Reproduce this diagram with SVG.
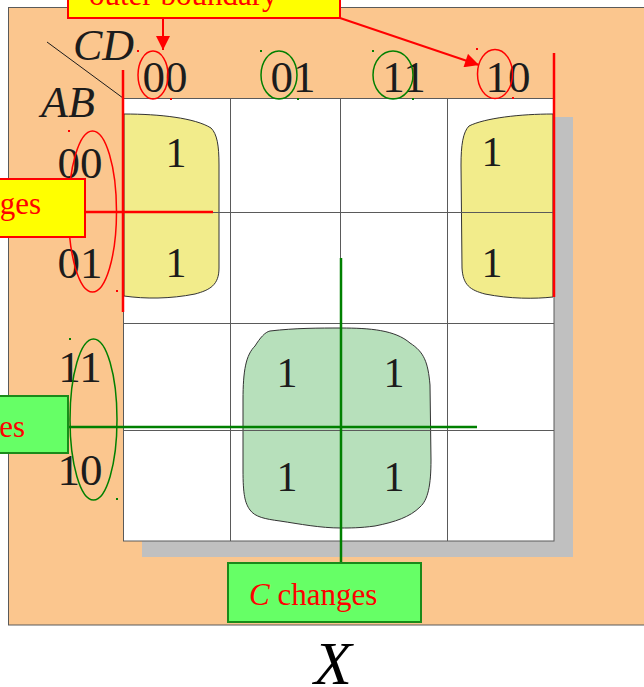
<svg xmlns="http://www.w3.org/2000/svg" width="644" height="687" viewBox="0 0 644 687">
  <style>
    .lbl { font-family: "Liberation Serif", "Times New Roman", serif; fill: #1c1c1c; }
    .var { font-family: "Liberation Serif", "Times New Roman", serif; font-style: italic; fill: #1c1c1c; font-size: 44px; }
    .code { font-size: 45px; text-anchor: middle; }
    .one { font-size: 42px; text-anchor: middle; }
    .note { font-family: "Liberation Serif", "Times New Roman", serif; font-size: 31px; fill: #ff0000; }
    .grid { stroke: #5a5a5a; stroke-width: 1; fill: none; }
    .blob { stroke: #333333; stroke-width: 1; }
    .red { stroke: #ff0000; fill: none; }
    .green { stroke: #008000; fill: none; }
    .dot-r { fill: #ff0000; }
    .dot-g { fill: #008000; }
  </style>
  <defs>
    <marker id="arrow" viewBox="0 0 10 10" refX="10" refY="5" markerWidth="16" markerHeight="14" markerUnits="userSpaceOnUse" orient="auto">
      <path d="M0,0 L10,5 L0,10 z" fill="#ff0000"/>
    </marker>
  </defs>

  <!-- page -->
  <rect x="0" y="0" width="644" height="687" fill="#ffffff"/>
  <rect x="8.5" y="7.5" width="650" height="617.5" fill="#fbc68e" stroke="#5a5a5a" stroke-width="1"/>

  <!-- map with drop shadow -->
  <g id="map">
    <rect x="142" y="117" width="431" height="440" fill="#c0c0c0"/>
    <rect x="123" y="98" width="431" height="443" fill="#ffffff"/>
  </g>

  <!-- groups of ones -->
  <g id="group-corners-left">
    <path class="blob" fill="#f2ec8b" d="M124,114 C160,114 195,118 211,128 C217,134 219,145 219,165 L219,268 C219,285 210,290 195,294 C170,299 145,299 124,296 Z"/>
  </g>
  <g id="group-corners-right">
    <path class="blob" fill="#f2ec8b" d="M553,114 C520,114 485,118 469,126 C463,132 461,145 461,165 L462,268 C463,285 470,290 485,294 C510,299 535,299 553,297 Z"/>
  </g>
  <g id="group-center">
    <path class="blob" fill="#b7e0bb" d="M270,331 C295,328 320,328 341,328 C370,328 395,330 410,343 C424,352 428,362 430,385 L431,460 C431,485 428,500 420,507 C410,517 395,522 375,526 C360,528 350,528 341,528 C320,528 300,524 280,521 C265,519 255,517 250,510 C245,503 243,495 243,470 L243,400 C243,370 246,355 255,346 C260,338 265,332 270,331 Z"/>
  </g>

  <!-- cell grid -->
  <g id="grid">
    <path class="grid" d="M230.5,98 V541 M340.5,98 V541 M447.5,98 V541 M123,212.5 H554 M123,323.5 H554 M123,430.5 H554"/>
    <rect class="grid" x="123.5" y="98.5" width="430.5" height="442.5"/>
  </g>

  <!-- cell values -->
  <g id="cells" class="lbl">
    <text class="one" x="176" y="167">1</text>
    <text class="one" x="176" y="277">1</text>
    <text class="one" x="492" y="166">1</text>
    <text class="one" x="492" y="277">1</text>
    <text class="one" x="287" y="387">1</text>
    <text class="one" x="394" y="387">1</text>
    <text class="one" x="287" y="491">1</text>
    <text class="one" x="394" y="491">1</text>
  </g>

  <!-- variable headings -->
  <g id="headings">
    <line x1="47" y1="42" x2="123" y2="98" stroke="#1c1c1c" stroke-width="1"/>
    <text class="var" x="73" y="60">CD</text>
    <text class="var" x="41" y="117">AB</text>
  </g>

  <g id="col-codes" class="lbl">
    <text class="code" x="165" y="92">00</text>
    <text class="code" x="293" y="92">01</text>
    <text class="code" x="404" y="92">11</text>
    <text class="code" x="508" y="92">10</text>
  </g>
  <g id="row-codes" class="lbl">
    <text class="code" x="80" y="178">00</text>
    <text class="code" x="80" y="278">01</text>
    <text class="code" x="80" y="382">11</text>
    <text class="code" x="80" y="485">10</text>
  </g>

  <!-- adjacency rings -->
  <g id="rings">
    <ellipse class="red" stroke-width="1.5" cx="153" cy="75" rx="15" ry="24"/>
    <ellipse class="green" stroke-width="1.5" cx="279" cy="75" rx="18" ry="24"/>
    <ellipse class="green" stroke-width="1.5" cx="393" cy="75" rx="20" ry="24"/>
    <ellipse class="red" stroke-width="1.5" cx="495" cy="74" rx="17.5" ry="24.5"/>
    <ellipse class="red" stroke-width="1.5" cx="92.5" cy="211.5" rx="24" ry="80.5"/>
    <ellipse class="green" stroke-width="1.5" cx="93.5" cy="419.5" rx="23.5" ry="80.5"/>
    <rect class="dot-r" x="137" y="50" width="2" height="2"/>
    <rect class="dot-r" x="170" y="98" width="2" height="2"/>
    <rect class="dot-g" x="260" y="50" width="2" height="2"/>
    <rect class="dot-g" x="297" y="98" width="2" height="2"/>
    <rect class="dot-g" x="372" y="50" width="2" height="2"/>
    <rect class="dot-g" x="412" y="98" width="2" height="2"/>
    <rect class="dot-r" x="476" y="48" width="2" height="2"/>
    <rect class="dot-r" x="512" y="97" width="2" height="2"/>
    <rect class="dot-r" x="68" y="130" width="2" height="2"/>
    <rect class="dot-r" x="116" y="290" width="2" height="2"/>
    <rect class="dot-g" x="69" y="338" width="2" height="2"/>
    <rect class="dot-g" x="116" y="498" width="2" height="2"/>
  </g>

  <!-- connectors: boundary markers, change lines and callout arrows -->
  <g id="connectors">
    <line class="red" stroke-width="2.5" x1="123" y1="70" x2="123" y2="312"/>
    <line class="red" stroke-width="2.5" x1="554" y1="53" x2="554" y2="297"/>
    <line class="red" stroke-width="2.5" x1="85" y1="212" x2="213" y2="212"/>
    <line class="green" stroke-width="2.5" x1="69" y1="427" x2="477" y2="427"/>
    <line class="green" stroke-width="2.5" x1="341" y1="258" x2="341" y2="563"/>
    <line class="red" stroke-width="2" x1="163" y1="18" x2="163" y2="50" marker-end="url(#arrow)"/>
    <line class="red" stroke-width="2" x1="340" y1="18" x2="479" y2="65" marker-end="url(#arrow)"/>
  </g>

  <!-- callouts -->
  <g id="callout-top">
    <rect x="68" y="-40" width="272" height="58" fill="#ffff00" stroke="#ff0000" stroke-width="2"/>
    <text class="note" x="89" y="5">outer boundary</text>
  </g>
  <g id="callout-rows-top">
    <rect x="-120" y="179" width="205" height="58" fill="#ffff00" stroke="#ff0000" stroke-width="2"/>
    <text class="note" x="41" y="214" text-anchor="end">ges</text>
  </g>
  <g id="callout-rows-bottom">
    <rect x="-140" y="396" width="208" height="57" fill="#66ff66" stroke="#1a8a1a" stroke-width="2"/>
    <text class="note" x="25" y="437" text-anchor="end">es</text>
  </g>
  <g id="callout-bottom">
    <rect x="228" y="563" width="193" height="59" fill="#66ff66" stroke="#1a8a1a" stroke-width="2"/>
    <text class="note" x="249" y="605"><tspan font-style="italic">C</tspan> changes</text>
  </g>

  <!-- caption -->
  <text x="333" y="684" text-anchor="middle" font-family="Liberation Serif, Times New Roman, serif" font-style="italic" font-size="62" fill="#000000">X</text>
</svg>
